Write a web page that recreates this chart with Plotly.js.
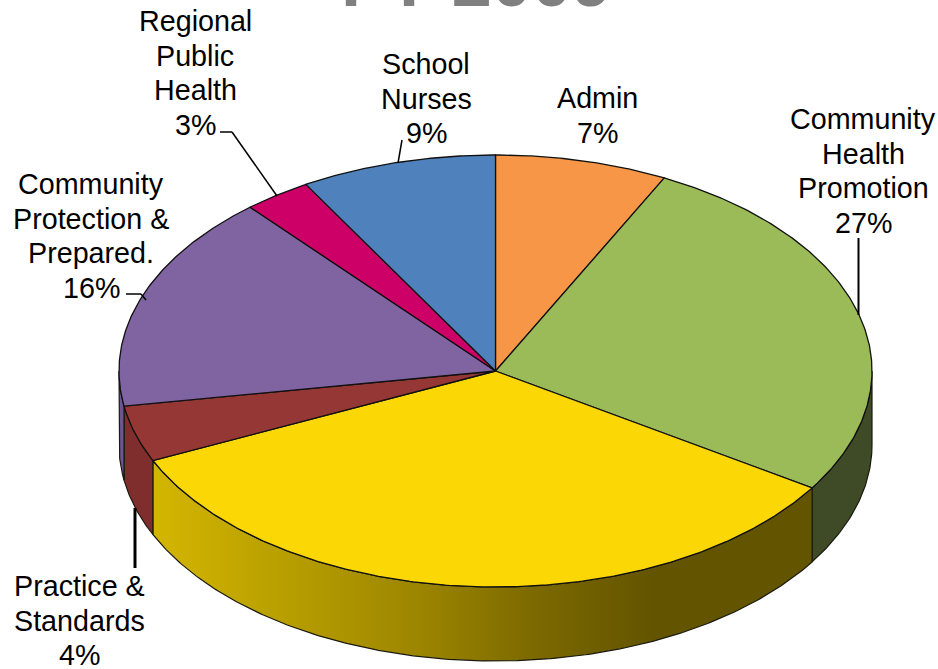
<!DOCTYPE html>
<html>
<head>
<meta charset="utf-8">
<script src="https://cdn.plot.ly/plotly-3.0.1.min.js"></script>
<style>html,body{margin:0;padding:0;background:#fff}#chart{width:938px;height:669px}</style>
</head>
<body>
<div id="chart"></div>
<script>
// Data
const titleText = 'FY 2009';
const categories = ['Admin', 'Community\nHealth\nPromotion', 'Yellow', 'Practice &\nStandards', 'Community\nProtection &\nPrepared.', 'Regional\nPublic\nHealth', 'School\nNurses'];
const shares = [7.4, 26.7, 34.1, 4.2, 16.3, 2.9, 8.4];
const percentLabels = ['7%', '27%', '', '4%', '16%', '3%', '9%'];

// Styles
const topColors = ['#f79646', '#9bbb59', '#fbd706', '#953735', '#8064a2', '#cc0066', '#4f81bd'];
const wallColors = ['#f79646', '#3f4a26', '#b39a00', '#7f2e2d', '#6c5590', '#cc0066', '#4f81bd'];
const yellowWallScale = [[0, '#d4b600'], [0.22, '#b59c00'], [0.40, '#9d8600'], [0.58, '#7c6900'], [0.76, '#635400'], [1, '#635400']];

// Layout (pixels in the 938x669 frame)
const W = 938, H = 669;
const cx = 495.5, cy = 371, rx = 376.5, ry = 216, depth = 74;
const fontFamily = '"Liberation Sans", Arial, sans-serif';
const labelSize = 28.7, lineStep = 34.6;
const labelPos = [[597, 98], [863, 119], null, [79, 586], [91, 184], [195, 21], [426, 64]];
const leaders = [
  [[135, 508], [135, 568], 3],
  [[220, 132], [232, 132], 1.5],
  [[232, 132], [277, 196], 1.5],
  [[402, 140], [398, 163], 1.5],
  [[126, 294], [141, 294], 1.5],
  [[141, 294], [146, 300], 1.5],
  [[858.5, 238], [858.5, 315], 2]
];

const px = x => x / W, py = y => 1 - y / H;
const rad = d => d * Math.PI / 180;
const rim = (deg, drop) => [Math.sin(rad(deg)), Math.cos(rad(deg)) - drop];

function arc(a, b, drop) {
  const out = [], n = Math.max(2, Math.ceil(Math.abs(b - a) / 0.5));
  for (let i = 0; i <= n; i++) out.push(rim(a + (b - a) * i / n, drop));
  return out;
}

const traces = [], wallTraces = [], topTraces = [];
let cum = 0;
shares.forEach((v, i) => {
  const a = cum / 100 * 360, b = (cum + v) / 100 * 360;
  cum += v;
  const name = categories[i].replace(/\n/g, ' ');
  // side wall: only the part of the rim facing the viewer
  const wa = Math.max(a, 90), wb = Math.min(b, 270);
  if (wb > wa) {
    const pts = arc(wa, wb, 0).concat(arc(wb, wa, depth / ry));
    pts.push(pts[0]);
    const t = {
      type: 'scatter', mode: 'lines', x: pts.map(p => p[0]), y: pts.map(p => p[1]),
      fill: 'toself', fillcolor: wallColors[i],
      line: {color: '#1a1a10', width: 1.2}, hoverinfo: 'skip', showlegend: false
    };
    if (i === 2) {
      delete t.fillcolor;
      t.fillgradient = {type: 'horizontal', colorscale: yellowWallScale};
    }
    wallTraces.push(t);
  }
  // top face
  const pts = [[0, 0]].concat(arc(a, b, 0));
  pts.push([0, 0]);
  topTraces.push({
    type: 'scatter', mode: 'lines', x: pts.map(p => p[0]), y: pts.map(p => p[1]),
    fill: 'toself', fillcolor: topColors[i], line: {color: '#111', width: 1.3},
    name: name, hoverinfo: 'name', showlegend: false
  });
});
traces.push(...wallTraces, ...topTraces);

const annotations = [{
  text: titleText, xref: 'paper', yref: 'paper', x: px(476), y: 1, xanchor: 'center', yanchor: 'bottom',
  yshift: -23, showarrow: false, font: {family: fontFamily, size: 72, color: '#808080', weight: 700}
}];
categories.forEach((c, i) => {
  if (!labelPos[i]) return;
  const lines = c.split('\n').concat(percentLabels[i]);
  lines.forEach((ln, k) => annotations.push({
    text: ln, xref: 'paper', yref: 'paper', x: px(labelPos[i][0]), y: py(labelPos[i][1] + k * lineStep),
    xanchor: 'center', yanchor: 'middle', showarrow: false,
    font: {family: fontFamily, size: labelSize, color: '#000'}
  }));
});

const shapes = leaders.map(l => ({
  type: 'line', xref: 'paper', yref: 'paper',
  x0: px(l[0][0]), y0: py(l[0][1]), x1: px(l[1][0]), y1: py(l[1][1]),
  line: {color: '#000', width: l[2]}
}));

const hiddenAxis = r => ({range: r, visible: false, fixedrange: true, showgrid: false, zeroline: false});
Plotly.newPlot('chart', traces, {
  width: W, height: H, margin: {l: 0, r: 0, t: 0, b: 0},
  paper_bgcolor: '#fff', plot_bgcolor: '#fff', showlegend: false,
  xaxis: hiddenAxis([-cx / rx, (W - cx) / rx]),
  yaxis: hiddenAxis([-(H - cy) / ry, cy / ry]),
  annotations: annotations, shapes: shapes
}, {displayModeBar: false, staticPlot: true});
</script>
</body>
</html>
